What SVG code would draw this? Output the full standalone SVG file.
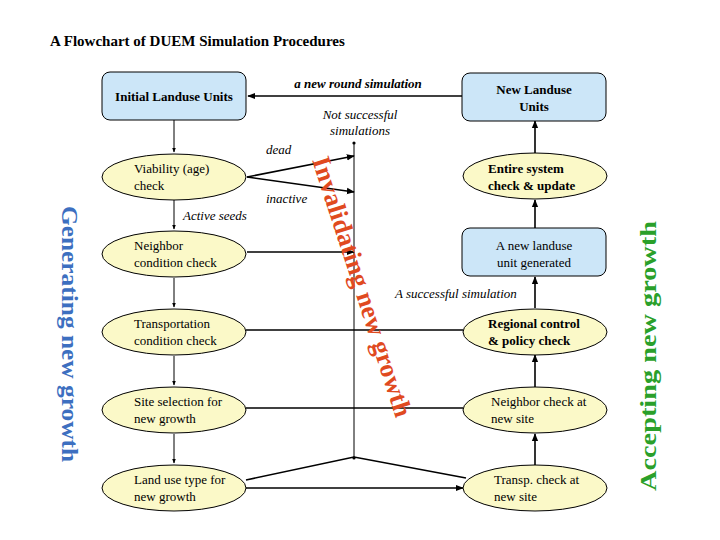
<svg xmlns="http://www.w3.org/2000/svg" width="720" height="540" viewBox="0 0 720 540">
<style>
text{font-family:"Liberation Serif","Times New Roman","DejaVu Serif",serif;fill:#000}
.box{fill:#cce6f8;stroke:#000;stroke-width:1}
.ell{fill:#fbf9c8;stroke:#000;stroke-width:1}
.t{font-size:13px}
.b{font-size:13px;font-weight:bold}
.i{font-size:13px;font-style:italic}
.ln{stroke:#000;stroke-width:1.6;fill:none}
.th{stroke:#000;stroke-width:1;fill:none}
</style>
<defs>
<marker id="a" viewBox="0 0 10 10" refX="9" refY="5" markerWidth="5" markerHeight="5" orient="auto"><path d="M0,1L10,5L0,9z" fill="#000"/></marker>
<marker id="d" viewBox="0 0 10 10" refX="5" refY="5" markerWidth="4" markerHeight="4"><circle cx="5" cy="5" r="4" fill="#000"/></marker>
</defs>
<rect width="720" height="540" fill="#fff"/>
<text x="50" y="46" style="font-size:15px;font-weight:bold">A Flowchart of DUEM Simulation Procedures</text>
<g id="connectors">
<line class="ln" x1="462" y1="96" x2="248" y2="96" marker-end="url(#a)"/>
<line class="th" x1="174" y1="120" x2="174" y2="152" marker-end="url(#a)"/>
<line class="th" x1="174" y1="200" x2="174" y2="229" marker-end="url(#a)"/>
<line class="th" x1="174" y1="278" x2="174" y2="307" marker-end="url(#a)"/>
<line class="th" x1="174" y1="356" x2="174" y2="385" marker-end="url(#a)"/>
<line class="th" x1="174" y1="434" x2="174" y2="463" marker-end="url(#a)"/>
<line class="th" x1="354" y1="143" x2="354" y2="458" marker-start="url(#d)" marker-end="url(#d)"/>
<line class="ln" x1="247" y1="177" x2="354" y2="156" marker-end="url(#a)"/>
<line class="ln" x1="247" y1="177" x2="354" y2="192" marker-end="url(#a)"/>
<line class="ln" x1="247" y1="252" x2="354" y2="252" marker-end="url(#a)"/>
<line class="ln" x1="246" y1="330" x2="463" y2="330"/>
<line class="ln" x1="246" y1="408" x2="463" y2="408"/>
<line class="ln" x1="246" y1="488" x2="463" y2="488" marker-end="url(#a)"/>
<polyline class="ln" points="246,480 354,457 466,478"/>
<line class="ln" x1="535" y1="465" x2="535" y2="434" marker-end="url(#a)"/>
<line class="ln" x1="535" y1="387" x2="535" y2="355" marker-end="url(#a)"/>
<line class="ln" x1="535" y1="308" x2="535" y2="277" marker-end="url(#a)"/>
<line class="ln" x1="535" y1="228" x2="535" y2="200" marker-end="url(#a)"/>
<line class="ln" x1="535" y1="153" x2="535" y2="121" marker-end="url(#a)"/>
</g>
<g id="initial"><rect class="box" x="102" y="72" width="144" height="48" rx="8"/><text class="b" x="174" y="101" text-anchor="middle">Initial Landuse Units</text></g>
<g id="viability"><ellipse class="ell" cx="174" cy="177" rx="72" ry="23"/><text class="t" x="134" y="173">Viability (age)</text><text class="t" x="134" y="190">check</text></g>
<g id="neighbor"><ellipse class="ell" cx="174" cy="254" rx="72" ry="23"/><text class="t" x="134" y="250">Neighbor</text><text class="t" x="134" y="267">condition check</text></g>
<g id="transport"><ellipse class="ell" cx="174" cy="332" rx="72" ry="23"/><text class="t" x="134" y="328">Transportation</text><text class="t" x="134" y="345">condition check</text></g>
<g id="site"><ellipse class="ell" cx="174" cy="410" rx="72" ry="23"/><text class="t" x="134" y="406">Site selection for</text><text class="t" x="134" y="423">new growth</text></g>
<g id="landuse"><ellipse class="ell" cx="174" cy="488" rx="72" ry="23"/><text class="t" x="134" y="484">Land use type for</text><text class="t" x="134" y="501">new growth</text></g>
<g id="newunits"><rect class="box" x="462" y="73" width="144" height="48" rx="8"/><text class="b" x="534" y="94" text-anchor="middle">New Landuse</text><text class="b" x="534" y="111" text-anchor="middle">Units</text></g>
<g id="entire"><ellipse class="ell" cx="535" cy="176" rx="72" ry="23"/><text class="b" x="488" y="173">Entire system</text><text class="b" x="488" y="190">check &amp; update</text></g>
<g id="newunit"><rect class="box" x="462" y="228" width="144" height="48" rx="8"/><text class="t" x="534" y="250" text-anchor="middle">A new landuse</text><text class="t" x="534" y="267" text-anchor="middle">unit generated</text></g>
<g id="regional"><ellipse class="ell" cx="535" cy="332" rx="72" ry="23"/><text class="b" x="488" y="328">Regional control</text><text class="b" x="488" y="345">&amp; policy check</text></g>
<g id="ncheck"><ellipse class="ell" cx="535" cy="410" rx="72" ry="23"/><text class="t" x="491" y="406">Neighbor check at</text><text class="t" x="491" y="423">new site</text></g>
<g id="tcheck"><ellipse class="ell" cx="535" cy="488" rx="72" ry="23"/><text class="t" x="494" y="484">Transp. check at</text><text class="t" x="494" y="501">new site</text></g>
<g id="labels">
<text x="358" y="88" text-anchor="middle" style="font-size:13px;font-style:italic;font-weight:bold">a new round simulation</text>
<text class="i" x="360" y="119" text-anchor="middle">Not successful</text>
<text class="i" x="360" y="135" text-anchor="middle">simulations</text>
<text class="i" x="266" y="154">dead</text>
<text class="i" x="266" y="203">inactive</text>
<text class="i" x="183" y="220">Active seeds</text>
<text class="i" x="395" y="298">A successful simulation</text>
<text transform="translate(312,160) rotate(72)" style="font-size:26px;font-weight:bold;fill:#e04a1f" textLength="272" lengthAdjust="spacingAndGlyphs">Invalidating new growth</text>
<text transform="translate(62,334) rotate(90)" text-anchor="middle" style="font-size:24px;font-weight:bold;fill:#3d6fc0" textLength="256" lengthAdjust="spacingAndGlyphs">Generating new growth</text>
<text transform="translate(656,356) rotate(-90)" text-anchor="middle" style="font-size:24px;font-weight:bold;fill:#2aa02a" textLength="270" lengthAdjust="spacingAndGlyphs">Accepting new growth</text>
</g>
</svg>
